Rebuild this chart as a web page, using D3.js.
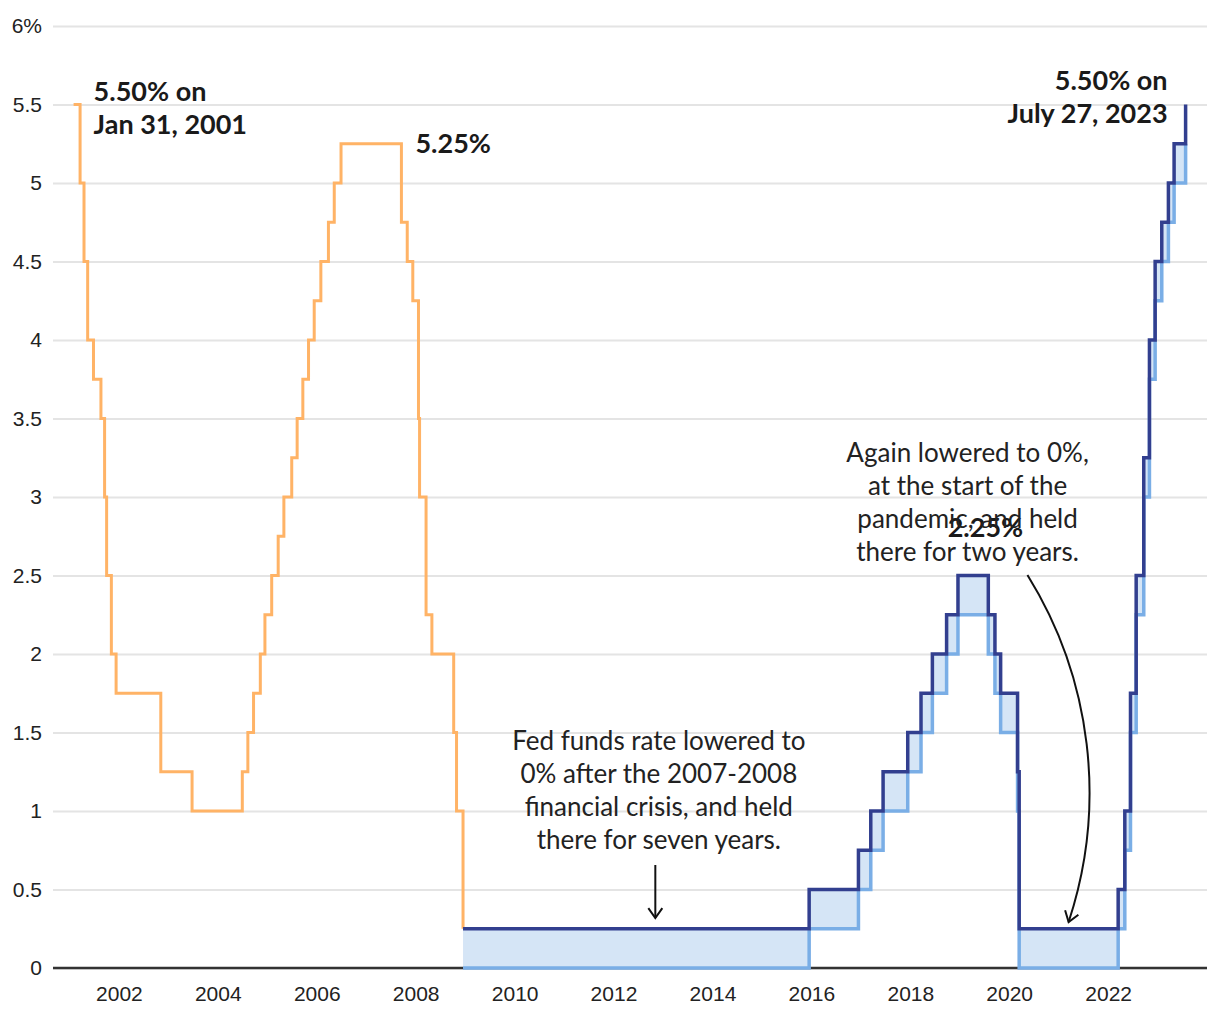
<!DOCTYPE html>
<html>
<head>
<meta charset="utf-8">
<script src="https://cdn.jsdelivr.net/npm/d3@7"></script>
<style>
  body { margin: 0; background: #fff; }
  svg { display: block; font-family: "Source Sans Pro", Lato, "Noto Sans", sans-serif; }
</style>
</head>
<body>
<div id="chart"></div>
<script>
// fed funds target rate, single value until Dec 2008
var singleDates = ["2001-01-31","2001-03-20","2001-04-18","2001-05-15","2001-06-27","2001-08-21",
  "2001-09-17","2001-10-02","2001-11-06","2001-12-11","2002-11-06","2003-06-25","2004-06-30",
  "2004-08-10","2004-09-21","2004-11-10","2004-12-14","2005-02-02","2005-03-22","2005-05-03",
  "2005-06-30","2005-08-09","2005-09-20","2005-11-01","2005-12-13","2006-01-31","2006-03-28",
  "2006-05-10","2006-06-29","2007-09-18","2007-10-31","2007-12-11","2008-01-22","2008-01-30",
  "2008-03-18","2008-04-30","2008-10-08","2008-10-29","2008-12-16"];
var singleRates = [5.5,5,4.5,4,3.75,3.5,3,2.5,2,1.75,1.25,1,1.25,1.5,1.75,2,2.25,2.5,2.75,3,
  3.25,3.5,3.75,4,4.25,4.5,4.75,5,5.25,4.75,4.5,4.25,3.5,3,2.25,2,1.5,1,0.25];

// target range after Dec 2008
var rangeDates = ["2008-12-16","2015-12-16","2016-12-14","2017-03-15","2017-06-14","2017-12-13",
  "2018-03-21","2018-06-13","2018-09-26","2018-12-19","2019-07-31","2019-09-18","2019-10-30",
  "2020-03-03","2020-03-15","2022-03-16","2022-05-04","2022-06-15","2022-07-27","2022-09-21",
  "2022-11-02","2022-12-14","2023-02-01","2023-03-22","2023-05-03","2023-07-27"];
var rangeLower = [0,0.25,0.5,0.75,1,1.25,1.5,1.75,2,2.25,2,1.75,1.5,1,0,0.25,0.75,1.5,2.25,3,
  3.75,4.25,4.5,4.75,5,5.25];
var rangeUpper = [0.25,0.5,0.75,1,1.25,1.5,1.75,2,2.25,2.5,2.25,2,1.75,1.25,0.25,0.5,1,1.75,
  2.5,3.25,4,4.5,4.75,5,5.25,5.5];

var xTickYears = [2002,2004,2006,2008,2010,2012,2014,2016,2018,2020,2022];
var yTickValues = [0,0.5,1,1.5,2,2.5,3,3.5,4,4.5,5,5.5,6];

var w = 1220, h = 1020;
var parse = d3.timeParse("%Y-%m-%d");

var single = singleDates.map(function(d, i) { return { date: parse(d), rate: singleRates[i] }; });
var range = rangeDates.map(function(d, i) {
  return { date: parse(d), lo: rangeLower[i], hi: rangeUpper[i] };
});

var x = d3.scaleTime()
  .domain([new Date(2000, 8, 1), new Date(2024, 0, 1)])
  .range([53, 1207]);
var y = d3.scaleLinear().domain([0, 6]).range([968, 26]);

var svg = d3.select("#chart").append("svg")
  .attr("width", w)
  .attr("height", h);

//gridlines + y labels
var yAxis = svg.append("g")
  .attr("transform", "translate(53,0)")
  .call(d3.axisLeft(y)
    .tickValues(yTickValues)
    .tickSize(-(1207 - 53))
    .tickPadding(11)
    .tickFormat(function(d) { return d === 6 ? "6%" : d3.format("")(d); }));
yAxis.select(".domain").remove();
yAxis.selectAll(".tick line").attr("stroke", "#e4e4e4").attr("stroke-width", 2);
yAxis.selectAll(".tick text").attr("font-size", 21).attr("fill", "#222").attr("font-family", "inherit");

// x labels
var xAxis = svg.append("g")
  .attr("transform", "translate(0,968)")
  .call(d3.axisBottom(x)
    .tickValues(xTickYears.map(function(yr) { return new Date(yr, 0, 1); }))
    .tickSize(0)
    .tickPadding(18)
    .tickFormat(d3.timeFormat("%Y")));
xAxis.select(".domain").remove();
xAxis.selectAll(".tick text").attr("font-size", 21).attr("fill", "#222").attr("font-family", "inherit");

// zero baseline
svg.append("line")
  .attr("x1", 53).attr("x2", 1207)
  .attr("y1", y(0)).attr("y2", y(0))
  .attr("stroke", "#333").attr("stroke-width", 2.5);

// range fill
var area = d3.area()
  .curve(d3.curveStepAfter)
  .x(function(d) { return x(d.date); })
  .y0(function(d) { return y(d.lo); })
  .y1(function(d) { return y(d.hi); });

svg.append("path")
  .datum(range)
  .attr("d", area)
  .attr("fill", "#d5e5f6");

var lineLo = d3.line().curve(d3.curveStepAfter)
  .x(function(d) { return x(d.date); })
  .y(function(d) { return y(d.lo); });
var lineHi = d3.line().curve(d3.curveStepAfter)
  .x(function(d) { return x(d.date); })
  .y(function(d) { return y(d.hi); });
var lineSingle = d3.line().curve(d3.curveStepAfter)
  .x(function(d) { return x(d.date); })
  .y(function(d) { return y(d.rate); });

svg.append("path")
  .datum(range)
  .attr("d", lineLo)
  .attr("fill", "none")
  .attr("stroke", "#7aaee6")
  .attr("stroke-width", 3.5);

svg.append("path")
  .datum(single)
  .attr("d", lineSingle)
  .attr("fill", "none")
  .attr("stroke", "#ffb366")
  .attr("stroke-width", 3);

svg.append("path")
  .datum(range)
  .attr("d", lineHi)
  .attr("fill", "none")
  .attr("stroke", "#323f8f")
  .attr("stroke-width", 3.5);

// bold value labels
function boldLabel(lines, px, py, anchor) {
  var t = svg.append("text")
    .attr("x", px).attr("y", py)
    .attr("text-anchor", anchor)
    .attr("font-size", 27)
    .attr("font-weight", "bold")
    .attr("fill", "#1a1a1a");
  lines.forEach(function(s, i) {
    t.append("tspan").attr("x", px).attr("dy", i === 0 ? 0 : 33).text(s);
  });
}

var first = single[0], last = range[range.length - 1];
boldLabel(["5.50% on", "Jan 31, 2001"], x(first.date) + 20, y(first.rate) - 4, "start");
boldLabel(["5.25%"], x(parse("2007-09-18")) + 14, y(5.25) + 9, "start");
boldLabel(["2.25%"], x(parse("2019-07-10")), y(2.5) - 39, "middle");
boldLabel(["5.50% on", "July 27, 2023"], x(last.date) - 18, y(last.hi) - 15, "end");

// annotations
function note(lines, px, py) {
  var t = svg.append("text")
    .attr("x", px).attr("y", py)
    .attr("text-anchor", "middle")
    .attr("font-size", 26)
    .attr("fill", "#222");
  lines.forEach(function(s, i) {
    t.append("tspan").attr("x", px).attr("dy", i === 0 ? 0 : 33).text(s);
  });
}

note(["Fed funds rate lowered to", "0% after the 2007-2008", "financial crisis, and held",
  "there for seven years."], x(parse("2012-12-01")), y(1.39));
note(["Again lowered to 0%,", "at the start of the", "pandemic, and held",
  "there for two years."], x(parse("2019-02-28")), y(3.225));

svg.append("defs").append("marker")
  .attr("id", "arrow")
  .attr("markerUnits", "userSpaceOnUse")
  .attr("viewBox", "-12 -9 14 18")
  .attr("markerWidth", 14).attr("markerHeight", 18)
  .attr("refX", 0).attr("refY", 0)
  .attr("orient", "auto")
  .append("path")
  .attr("d", "M-10,-7L0,0L-10,7")
  .attr("fill", "none")
  .attr("stroke", "#111")
  .attr("stroke-width", 2);

var ax = x(parse("2012-11-05"));
svg.append("line")
  .attr("x1", ax).attr("x2", ax)
  .attr("y1", y(0.656)).attr("y2", y(0.318))
  .attr("stroke", "#111").attr("stroke-width", 2)
  .attr("marker-end", "url(#arrow)");

var p0 = [x(parse("2020-05-15")), y(2.503)];
var p1 = [x(parse("2021-03-15")), y(0.293)];
svg.append("path")
  .attr("d", "M" + p0[0] + "," + p0[1] + "A412,412 0 0 1 " + p1[0] + "," + p1[1])
  .attr("fill", "none")
  .attr("stroke", "#111").attr("stroke-width", 2)
  .attr("marker-end", "url(#arrow)");
</script>
</body>
</html>
